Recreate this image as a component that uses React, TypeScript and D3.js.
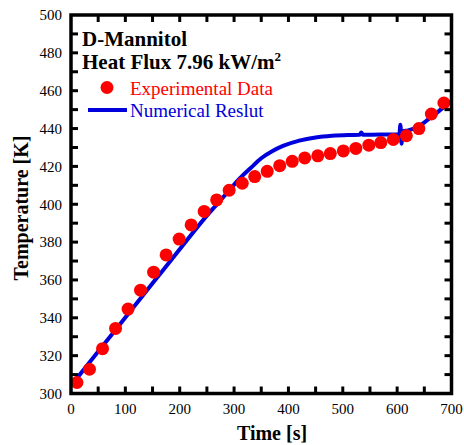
import React from "react";
import * as d3 from "d3";

// Experimental data (time [s], temperature [K])
const expTime = [11, 34, 58, 82, 105, 128, 152, 175, 199, 221, 245, 268, 291, 315, 338, 361, 384, 407, 430, 454, 477, 501, 524, 548, 570, 593, 617, 640, 663, 686];
const expTemp = [305.8, 312.8, 323.7, 334.4, 344.6, 354.6, 364.1, 373.2, 381.6, 389.1, 396.2, 402.3, 407.4, 411.1, 414.6, 417.4, 420.4, 422.7, 424.5, 425.6, 426.8, 428.2, 429.5, 431.2, 432.6, 434.2, 436.2, 440.0, 447.7, 453.5];

// Numerical result
const numTime = [5, 50, 100, 150, 200, 250, 270, 290, 310, 330, 350, 370, 390, 420, 450, 480, 510, 531, 534, 537, 570, 604, 606, 608, 610, 620, 640, 660, 680, 698];
const numTemp = [306, 322.2, 340.2, 358.2, 376.2, 394, 400.5, 407, 413.5, 419, 424.3, 428, 430.8, 433.6, 435.3, 436.2, 436.6, 436.7, 437.9, 436.7, 436.8, 436.8, 442, 432, 438.5, 439, 441.2, 445.5, 450, 454.5];

const xTicks = d3.range(0, 701, 50);
const xLabels = d3.range(0, 701, 100);
const yTicks = d3.range(300, 501, 10);
const yLabels = d3.range(300, 501, 20);

const W = 464;
const H = 445;
const L = 71, R = 451.5, T = 15, B = 393.5;
const FONT = "'Liberation Serif', 'Times New Roman', Times, serif";
const RED = "#ff0000";
const BLUE = "#0000dc";

export default function App() {
  const x = d3.scaleLinear().domain([0, 700]).range([L, R]);
  const y = d3.scaleLinear().domain([300, 500]).range([B, T]);
  const line = d3
    .line<number>()
    .x((_, i) => x(numTime[i]))
    .y((d) => y(d))
    .curve(d3.curveMonotoneX);
  const tl = 7;
  return (
    <svg
      width={W}
      height={H}
      style={{ position: "absolute", left: 0, top: 0, background: "#fff" }}
      fontFamily={FONT}
    >
      {/* numerical line */}
      <path d={line(numTemp) || ""} fill="none" stroke={BLUE} strokeWidth={4} />
      {/* experimental points */}
      {expTime.map((t, i) => (
        <circle key={i} cx={x(t)} cy={y(expTemp[i])} r={6.5} fill={RED} />
      ))}
      {/* ticks */}
      {xTicks.filter((v) => v > 0 && v < 700).map((v) => (
        <g key={"xt" + v}>
          <line x1={x(v)} x2={x(v)} y1={B} y2={B - tl} stroke="#000" strokeWidth={3} />
          <line x1={x(v)} x2={x(v)} y1={T} y2={T + tl} stroke="#000" strokeWidth={3} />
        </g>
      ))}
      {yTicks.filter((v) => v > 300 && v < 500).map((v) => (
        <g key={"yt" + v}>
          <line x1={L} x2={L + tl} y1={y(v)} y2={y(v)} stroke="#000" strokeWidth={3} />
          <line x1={R} x2={R - tl} y1={y(v)} y2={y(v)} stroke="#000" strokeWidth={3} />
        </g>
      ))}
      {/* frame */}
      <rect x={L} y={T} width={R - L} height={B - T} fill="none" stroke="#000" strokeWidth={3.5} />
      {/* tick labels */}
      {xLabels.map((v) => (
        <text key={"xl" + v} x={x(v)} y={414} textAnchor="middle" fontSize={15} fill="#000">
          {v}
        </text>
      ))}
      {yLabels.map((v) => (
        <text key={"yl" + v} x={62} y={y(v)} dy="0.35em" textAnchor="end" fontSize={15} fill="#000">
          {v}
        </text>
      ))}
      {/* axis titles */}
      <text x={272} y={440} textAnchor="middle" fontSize={20} fontWeight="bold" fill="#000">
        Time [s]
      </text>
      <text
        transform={`translate(28,208) rotate(-90)`}
        textAnchor="middle"
        fontSize={20}
        fontWeight="bold"
        fill="#000"
      >
        Temperature [K]
      </text>
      {/* title */}
      <text x={82} y={46} fontSize={21} fontWeight="bold" fill="#000">
        D-Mannitol
      </text>
      <text x={82} y={68.5} fontSize={21} fontWeight="bold" fill="#000">
        Heat Flux 7.96 kW/m
        <tspan fontSize={13} dy={-8}>2</tspan>
      </text>
      {/* legend */}
      <circle cx={107} cy={87.5} r={6.5} fill={RED} />
      <text x={130} y={95} fontSize={19} fill={RED}>
        Experimental Data
      </text>
      <line x1={88} x2={127} y1={110} y2={110} stroke={BLUE} strokeWidth={4} />
      <text x={130} y={117} fontSize={19} fill={BLUE}>
        Numerical Reslut
      </text>
    </svg>
  );
}
